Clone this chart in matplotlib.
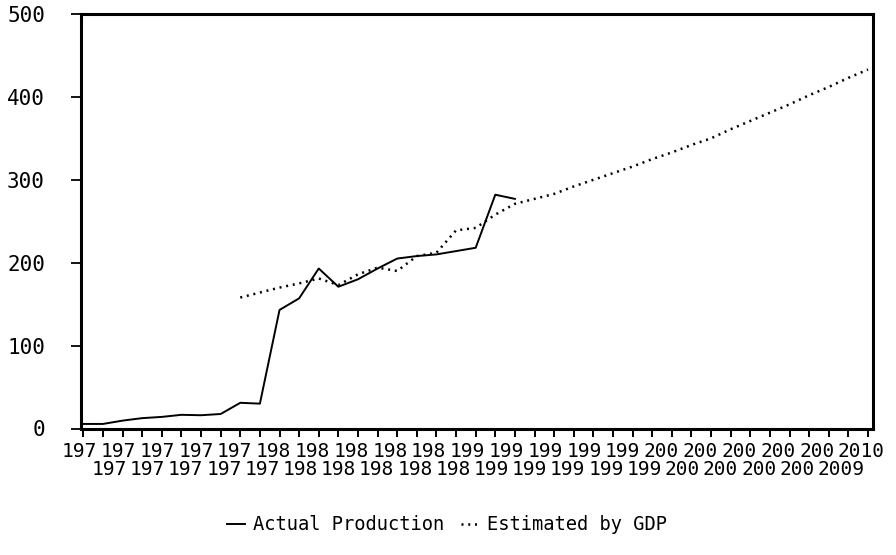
import matplotlib
matplotlib.use("Agg")
import matplotlib.pyplot as plt
import matplotlib.transforms as mtransforms

# Actual production, 1970-1992
years_actual = list(range(1970, 1993))
actual_production = [5.5, 5.5, 9.5, 12.5, 14, 16.5, 16, 17.5, 31, 30,
                     143, 157, 193, 171, 180, 193, 205, 208, 210, 214,
                     218, 282, 277]

# Production estimated from GDP, 1978-2010
years_estimated = list(range(1978, 2011))
estimated_by_gdp = [158, 164, 170, 175, 181, 173, 186, 194, 190, 208,
                    212, 239, 242, 258, 271, 277, 283, 292, 300, 308,
                    316, 325, 333, 342, 350, 361, 371, 381, 391, 402,
                    412, 423, 433]

# Axis ticks
upper_years = list(range(1970, 2011, 2))
upper_labels = ["197", "197", "197", "197", "197", "198", "198", "198",
                "198", "198", "199", "199", "199", "199", "199", "200",
                "200", "200", "200", "200", "2010"]
lower_years = list(range(1971, 2010, 2))
lower_labels = ["197", "197", "197", "197", "197", "198", "198", "198",
                "198", "198", "199", "199", "199", "199", "199", "200",
                "200", "200", "200", "2009"]
y_ticks = [0, 100, 200, 300, 400, 500]
y_labels = ["0", "100", "200", "300", "400", "500"]

plt.rcParams["font.family"] = ["DejaVu Sans Mono", "DejaVu Sans"]

fig = plt.figure(figsize=(8.96, 5.55), dpi=100)
W, H = 896, 555
ax = fig.add_axes([81 / W, 1 - 428.5 / H, (873.3 - 81) / W, (428.5 - 14) / H])

line_actual, = ax.plot(years_actual, actual_production, color="black",
                       lw=1.4, label="Actual Production")
line_est, = ax.plot(years_estimated, estimated_by_gdp, color="black",
                    lw=1.8, linestyle=(0, (0.8, 1.9)), dash_capstyle="butt",
                    label="Estimated by GDP")

ax.set_xlim(1969.88, 2010.27)
ax.set_ylim(0, 500)

for side in ax.spines.values():
    side.set_linewidth(2.2)

ax.set_xticks(upper_years, labels=upper_labels)
ax.set_xticks(lower_years, labels=lower_labels, minor=True)
ax.tick_params(axis="x", which="both", direction="out", length=6,
               width=1.4, labelsize=14, color="black")
ax.tick_params(axis="x", which="major", pad=3.5)
ax.tick_params(axis="x", which="minor", pad=17)

ax.set_yticks(y_ticks, labels=y_labels)
ax.tick_params(axis="y", direction="out", length=7, width=1.3,
               labelsize=15, pad=19)

# the year labels run at a slightly tighter pitch than the ticks:
# left-align each clipped label in its slot
def place_labels(labels, first_shift, step):
    for i, lbl in enumerate(labels):
        dx = (first_shift + step * i) / 100
        lbl.set_horizontalalignment("left")
        lbl.set_transform(lbl.get_transform() +
                          mtransforms.ScaledTranslation(dx, 0, fig.dpi_scale_trans))

place_labels(ax.xaxis.get_majorticklabels(), -21.6, -0.43)
place_labels(ax.xaxis.get_minorticklabels(), -11.3, -1.03)

fig.legend(handles=[line_actual, line_est], loc="center",
           bbox_to_anchor=(447 / W, 1 - 525 / H), ncol=2, frameon=False,
           fontsize=13.5, handlelength=1.0, handletextpad=0.4,
           columnspacing=0.9)

fig.savefig("out.png", dpi=100, facecolor="white")
